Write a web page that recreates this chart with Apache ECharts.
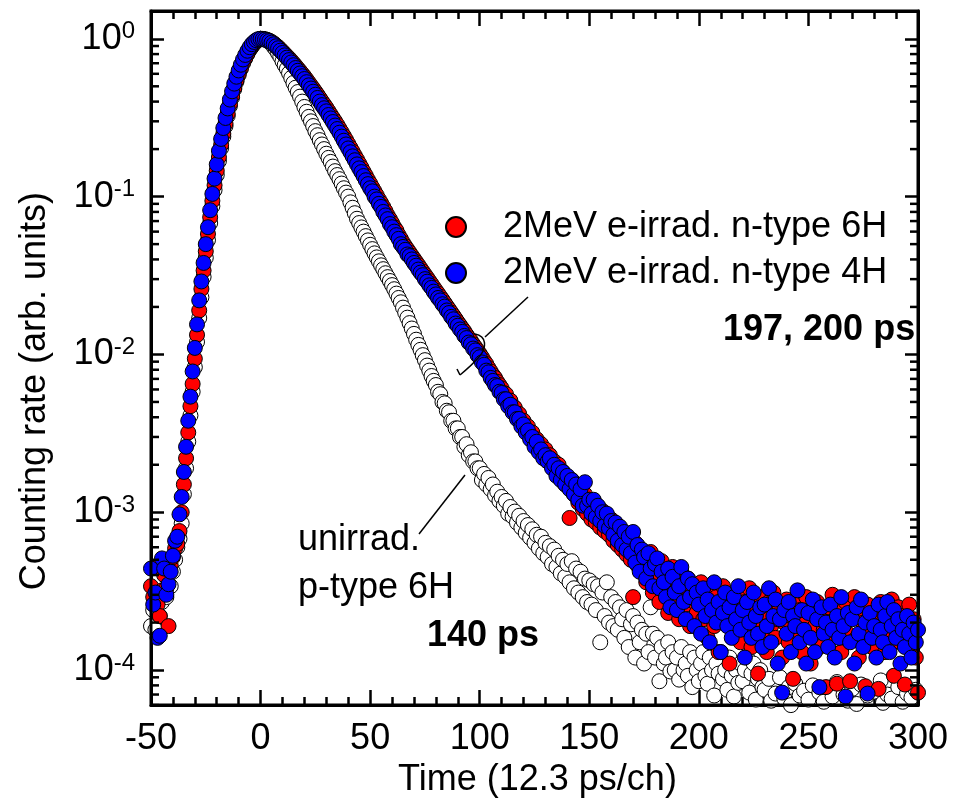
<!DOCTYPE html>
<html>
<head>
<meta charset="utf-8">
<title>Positron lifetime spectra</title>
<script src="https://cdn.jsdelivr.net/npm/echarts@6/dist/echarts.min.js"></script>
<style>
  html, body { margin: 0; padding: 0; background: #fff; }
  #chart { width: 953px; height: 803px; }
</style>
</head>
<body>
<div id="chart"></div>
<script>
// one value per channel, the first one belongs to channel -50
const firstChannel = -50;

const nameUnirrad = 'unirrad. p-type 6H';
const name6H = '2MeV e-irrad. n-type 6H';
const name4H = '2MeV e-irrad. n-type 4H';

const unirradP6H = [
  1.9e-4, 2.4e-4, 1.8e-4, 3.0e-4, 2.2e-4, 2.7e-4, 3.2e-4, 2.9e-4, 4.3e-4, 3.4e-4,
  4.2e-4, 5.0e-4, 6.0e-4, 6.8e-4, 8.5e-4, 1.3e-3, 1.9e-3, 2.8e-3, 4.1e-3, 5.8e-3,
  8.3e-3, 1.2e-2, 1.7e-2, 2.3e-2, 3.1e-2, 4.1e-2, 5.3e-2, 6.8e-2, 8.7e-2, 0.11,
  0.137, 0.168, 0.203, 0.24, 0.28, 0.325, 0.375, 0.425, 0.48, 0.535,
  0.59, 0.645, 0.7, 0.75, 0.8, 0.85, 0.89, 0.93, 0.96, 0.985,
  1.0, 0.998, 0.99, 0.98, 0.955, 0.93, 0.89, 0.855, 0.81, 0.77,
  0.72, 0.68, 0.645, 0.605, 0.565, 0.525, 0.49, 0.46, 0.43, 0.4,
  0.37, 0.345, 0.32, 0.3, 0.28, 0.26, 0.245, 0.228, 0.214, 0.2,
  0.187, 0.176, 0.166, 0.155, 0.145, 0.137, 0.129, 0.121, 0.113, 0.106,
  0.1, 0.092, 0.085, 0.0785, 0.0724, 0.068, 0.0638, 0.06, 0.0562, 0.0528,
  0.0495, 0.0465, 0.0437, 0.0412, 0.0389, 0.0367, 0.0347, 0.0327, 0.0309, 0.0292,
  0.0275, 0.0259, 0.0243, 0.0228, 0.0214, 0.0198, 0.0184, 0.0171, 0.0158, 0.0146,
  0.0135, 0.0124, 0.0115, 0.0107, 0.0099, 0.0092, 0.0085, 0.0079, 0.0073, 0.0068,
  0.0064, 0.0058, 0.0056, 0.005, 0.0049, 0.0044, 0.0043, 0.0038, 0.0038, 0.0034,
  0.0034, 0.003, 0.003, 0.0026, 0.0027, 0.0023, 0.0024, 0.0021, 0.0021, 0.0019,
  1.9e-3, 1.6e-3, 1.75e-3, 1.5e-3, 1.65e-3, 1.4e-3, 1.5e-3, 1.28e-3, 1.35e-3, 1.18e-3,
  1.25e-3, 1.1e-3, 1.18e-3, 9.8e-4, 1.08e-3, 9.4e-4, 1.01e-3, 8.6e-4, 9.5e-4, 8.0e-4,
  8.8e-4, 7.4e-4, 8.3e-4, 6.9e-4, 7.8e-4, 6.4e-4, 7.2e-4, 5.9e-4, 7.0e-4, 5.5e-4,
  6.4e-4, 5.2e-4, 6.1e-4, 4.7e-4, 5.8e-4, 4.5e-4, 5.3e-4, 4.1e-4, 5.0e-4, 3.9e-4,
  4.7e-4, 3.6e-4, 4.9e-4, 3.3e-4, 4.4e-4, 3.1e-4, 4.2e-4, 2.9e-4, 3.8e-4, 2.7e-4,
  3.7e-4, 2.6e-4, 3.5e-4, 2.4e-4, 3.4e-4, 1.5e-4, 3.1e-4, 2.2e-4, 3.6e-4, 2.0e-4,
  2.9e-4, 1.9e-4, 2.7e-4, 1.8e-4, 2.5e-4, 2.1e-4, 1.6e-4, 2.4e-4, 1.4e-4, 1.95e-4,
  2.2e-4, 1.2e-4, 2.0e-4, 1.5e-4, 1.8e-4, 1.1e-4, 1.7e-4, 1.3e-4, 2.5e-4, 1.7e-4,
  1.2e-4, 1.6e-4, 8.5e-5, 1.4e-4, 1.1e-4, 1.2e-4, 1.5e-4, 9.8e-5, 1.3e-4, 1.0e-4,
  1.2e-4, 8.7e-5, 1.4e-4, 1.0e-4, 1.1e-4, 9.2e-5, 1.3e-4, 7.8e-5, 1.2e-4, 1.0e-4,
  8.5e-5, 1.1e-4, 1.3e-4, 9.2e-5, 8.2e-5, 1.2e-4, 1.0e-4, 6.9e-5, 1.1e-4, 9.5e-5,
  1.3e-4, 8.8e-5, 1.0e-4, 7.5e-5, 1.2e-4, 9.2e-5, 6.8e-5, 1.0e-4, 8.3e-5, 1.1e-4,
  8.5e-5, 1.0e-4, 1.2e-4, 7.2e-5, 9.5e-5, 1.1e-4, 6.5e-5, 8.8e-5, 1.0e-4, 7.8e-5,
  7.5e-5, 5.2e-5, 8.8e-5, 6.4e-5, 4.8e-5, 7.1e-5, 5.6e-5, 9.0e-5, 4.5e-5, 6.6e-5,
  5.0e-5, 7.8e-5, 6.0e-5, 4.4e-5, 8.2e-5, 5.4e-5, 6.9e-5, 4.7e-5, 7.4e-5, 5.8e-5,
  6.5e-5, 4.3e-5, 8.0e-5, 5.5e-5, 4.9e-5, 7.2e-5, 5.1e-5, 6.3e-5, 4.6e-5, 7.7e-5,
  5.3e-5, 6.8e-5, 4.5e-5, 8.4e-5, 5.7e-5, 4.8e-5, 7.0e-5, 5.2e-5, 6.4e-5, 4.4e-5,
  7.6e-5, 5.0e-5, 6.1e-5, 4.7e-5, 8.1e-5, 5.5e-5, 4.3e-5, 6.9e-5, 5.9e-5, 4.9e-5,
  7.3e-5, 5.4e-5, 4.6e-5, 8.6e-5, 6.2e-5, 5.0e-5, 7.0e-5, 4.5e-5, 6.6e-5, 5.3e-5,
  4.8e-5, 7.8e-5, 5.6e-5, 6.3e-5, 4.4e-5, 7.1e-5, 5.2e-5, 6.7e-5, 4.9e-5, 7.5e-5,
  5.8e-5
];

const irradN6H = [
  3.4e-4, 2.9e-4, 4.5e-4, 2.6e-4, 2.2e-4, 3.2e-4, 4.0e-4, 3.3e-4, 1.9e-4, 4.6e-4,
  5.2e-4, 5.9e-4, 6.3e-4, 7.6e-4, 1.0e-3, 1.5e-3, 2.2e-3, 3.2e-3, 4.7e-3, 6.5e-3,
  9.4e-3, 1.33e-2, 1.9e-2, 2.6e-2, 3.4e-2, 4.5e-2, 5.8e-2, 7.4e-2, 9.4e-2, 0.118,
  0.146, 0.178, 0.213, 0.25, 0.29, 0.335, 0.385, 0.435, 0.49, 0.545,
  0.6, 0.655, 0.71, 0.76, 0.81, 0.86, 0.9, 0.94, 0.97, 0.99,
  1.0, 0.998, 0.993, 0.984, 0.973, 0.955, 0.935, 0.91, 0.886, 0.858,
  0.83, 0.803, 0.777, 0.752, 0.726, 0.7, 0.674, 0.648, 0.624, 0.6,
  0.576, 0.552, 0.528, 0.505, 0.483, 0.462, 0.442, 0.421, 0.401, 0.383,
  0.366, 0.348, 0.331, 0.315, 0.3, 0.285, 0.27, 0.256, 0.242, 0.229,
  0.216, 0.204, 0.193, 0.182, 0.172, 0.162, 0.153, 0.144, 0.136, 0.128,
  0.121, 0.114, 0.108, 0.102, 0.096, 0.091, 0.086, 0.081, 0.076, 0.072,
  0.068, 0.064, 0.061, 0.057, 0.054, 0.051, 0.0485, 0.0463, 0.0442, 0.0422,
  0.0403, 0.0385, 0.0368, 0.0351, 0.0335, 0.032, 0.0306, 0.0292, 0.0279, 0.0266,
  0.0254, 0.0243, 0.0232, 0.0222, 0.0212, 0.0202, 0.0193, 0.0184, 0.0176, 0.0168,
  0.016, 0.0153, 0.0146, 0.014, 0.0133, 0.0127, 0.0122, 0.0116, 0.0111, 0.0106,
  0.0101, 0.0096, 0.0091, 0.0087, 0.0082, 0.0078, 0.0074, 0.0071, 0.0067, 0.0064,
  0.0061, 0.0057, 0.0056, 0.0051, 0.0051, 0.0047, 0.0046, 0.0042, 0.0042, 0.0038,
  0.0038, 0.0034, 0.0035, 0.0031, 0.0032, 0.0028, 0.0029, 0.0025, 0.0027, 0.0023,
  2.5e-3, 2.1e-3, 2.3e-3, 1.95e-3, 2.1e-3, 1.8e-3, 2.0e-3, 1.65e-3, 1.8e-3, 1.5e-3,
  1.65e-3, 9.2e-4, 1.6e-3, 1.3e-3, 1.5e-3, 1.15e-3, 1.4e-3, 1.05e-3, 1.3e-3, 9.8e-4,
  1.2e-3, 9.0e-4, 1.18e-3, 8.6e-4, 1.08e-3, 8.0e-4, 1.02e-3, 7.6e-4, 9.5e-4, 7.2e-4,
  9.0e-4, 6.6e-4, 8.4e-4, 6.2e-4, 7.8e-4, 5.8e-4, 7.2e-4, 5.4e-4, 6.8e-4, 5.0e-4,
  2.9e-4, 6.4e-4, 4.6e-4, 5.9e-4, 4.2e-4, 5.3e-4, 3.6e-4, 4.8e-4, 5.6e-4, 3.1e-4,
  4.4e-4, 3.8e-4, 2.7e-4, 4.9e-4, 3.3e-4, 4.1e-4, 2.3e-4, 3.7e-4, 4.5e-4, 2.8e-4,
  3.5e-4, 2.1e-4, 4.2e-4, 3.0e-4, 2.6e-4, 3.8e-4, 1.9e-4, 3.3e-4, 2.7e-4, 2.3e-4,
  3.1e-4, 3.6e-4, 2.1e-4, 2.7e-4, 1.6e-4, 3.2e-4, 2.4e-4, 1.9e-4, 2.9e-4, 1.3e-4,
  2.6e-4, 3.4e-4, 2.0e-4, 2.4e-4, 1.1e-4, 2.8e-4, 1.7e-4, 2.3e-4, 3.1e-4, 1.5e-4,
  2.2e-4, 2.7e-4, 1.8e-4, 3.3e-4, 1.4e-4, 2.5e-4, 2.0e-4, 9.5e-5, 2.9e-4, 1.7e-4,
  2.3e-4, 1.3e-4, 2.7e-4, 1.9e-4, 3.1e-4, 1.6e-4, 2.1e-4, 2.5e-4, 1.2e-4, 2.0e-4,
  2.8e-4, 1.5e-4, 2.2e-4, 8.8e-5, 2.6e-4, 1.8e-4, 2.4e-4, 1.3e-4, 2.1e-4, 2.9e-4,
  1.7e-4, 1.1e-4, 2.4e-4, 1.9e-4, 2.7e-4, 1.4e-4, 2.2e-4, 1.8e-4, 7.8e-5, 2.5e-4,
  1.6e-4, 3.0e-4, 2.0e-4, 8.2e-5, 2.4e-4, 1.3e-4, 1.9e-4, 2.7e-4, 1.7e-4, 8.5e-5,
  2.2e-4, 2.9e-4, 1.6e-4, 1.2e-4, 2.4e-4, 2.0e-4, 7.9e-5, 2.6e-4, 1.8e-4, 1.4e-4,
  2.3e-4, 1.7e-4, 7.6e-5, 2.7e-4, 2.0e-4, 1.3e-4, 2.4e-4, 1.6e-4, 2.8e-4, 9.2e-5,
  2.0e-4, 2.5e-4, 1.5e-4, 2.2e-4, 8.1e-5, 1.8e-4, 2.6e-4, 1.4e-4, 2.1e-4, 1.2e-4,
  7.2e-5
];

const irradN4H = [
  4.4e-4, 2.6e-4, 3.1e-4, 1.6e-4, 1.65e-4, 5.1e-4, 4.4e-4, 3.0e-4, 3.5e-4, 4.2e-4,
  5.3e-4, 6.6e-4, 7.0e-4, 9.7e-4, 1.25e-3, 1.8e-3, 2.6e-3, 3.8e-3, 5.4e-3, 7.8e-3,
  1.1e-2, 1.55e-2, 2.2e-2, 2.9e-2, 3.8e-2, 5.0e-2, 6.4e-2, 8.2e-2, 0.104, 0.13,
  0.16, 0.195, 0.232, 0.272, 0.315, 0.362, 0.412, 0.465, 0.52, 0.575,
  0.63, 0.685, 0.74, 0.79, 0.84, 0.885, 0.925, 0.955, 0.98, 0.995,
  1.0, 0.995, 0.989, 0.977, 0.966, 0.944, 0.923, 0.896, 0.871, 0.841,
  0.813, 0.785, 0.759, 0.733, 0.708, 0.68, 0.653, 0.627, 0.603, 0.579,
  0.556, 0.531, 0.507, 0.484, 0.462, 0.442, 0.422, 0.4, 0.38, 0.363,
  0.347, 0.329, 0.313, 0.297, 0.282, 0.268, 0.254, 0.24, 0.226, 0.214,
  0.202, 0.191, 0.18, 0.17, 0.16, 0.151, 0.143, 0.135, 0.127, 0.12,
  0.113, 0.108, 0.1, 0.096, 0.09, 0.086, 0.08, 0.076, 0.072, 0.067,
  0.064, 0.06, 0.057, 0.054, 0.05, 0.048, 0.046, 0.043, 0.042, 0.04,
  0.038, 0.0365, 0.0345, 0.033, 0.0318, 0.03, 0.0289, 0.0274, 0.0264, 0.025,
  0.024, 0.0228, 0.022, 0.0208, 0.0201, 0.019, 0.0183, 0.0173, 0.0167, 0.0157,
  0.0152, 0.0144, 0.0139, 0.0131, 0.0127, 0.0119, 0.0116, 0.0109, 0.0106, 0.0099,
  0.0096, 0.0089, 0.0086, 0.0079, 0.0077, 0.0071, 0.0068, 0.0064, 0.0063, 0.0058,
  0.0057, 0.0052, 0.0052, 0.0047, 0.0048, 0.0043, 0.0043, 0.0039, 0.0039, 0.0035,
  0.0036, 0.0032, 0.0033, 0.0029, 0.003, 0.0026, 0.0028, 0.0024, 0.0025, 0.0022,
  2.3e-3, 2.1e-3, 2.2e-3, 1.9e-3, 2.0e-3, 1.7e-3, 1.9e-3, 1.6e-3, 1.8e-3, 1.5e-3,
  1.7e-3, 1.4e-3, 1.6e-3, 1.3e-3, 1.5e-3, 1.2e-3, 1.4e-3, 1.1e-3, 1.55e-3, 1.1e-3,
  1.2e-3, 9.8e-4, 1.2e-3, 9.3e-4, 1.1e-3, 8.8e-4, 1.0e-3, 8.2e-4, 9.8e-4, 7.9e-4,
  8.8e-4, 7.2e-4, 8.6e-4, 6.6e-4, 8.1e-4, 6.2e-4, 7.5e-4, 5.8e-4, 7.0e-4, 5.5e-4,
  7.5e-4, 4.8e-4, 6.2e-4, 4.2e-4, 5.8e-4, 5.2e-4, 3.8e-4, 5.5e-4, 4.4e-4, 3.4e-4,
  4.7e-4, 5.1e-4, 3.3e-4, 4.2e-4, 3.6e-4, 2.9e-4, 4.4e-4, 2.5e-4, 3.9e-4, 3.1e-4,
  2.4e-4, 3.4e-4, 4.5e-4, 2.7e-4, 2.1e-4, 3.8e-4, 2.9e-4, 3.5e-4, 1.9e-4, 3.1e-4,
  2.6e-4, 1.7e-4, 3.3e-4, 2.2e-4, 2.8e-4, 1.5e-4, 2.4e-4, 3.6e-4, 2.0e-4, 2.7e-4,
  1.3e-4, 2.3e-4, 3.1e-4, 1.9e-4, 2.5e-4, 1.6e-4, 2.9e-4, 2.1e-4, 3.4e-4, 1.8e-4,
  2.4e-4, 1.2e-4, 2.7e-4, 2.0e-4, 1.6e-4, 3.1e-4, 2.2e-4, 1.7e-4, 2.5e-4, 1.4e-4,
  2.6e-4, 1.9e-4, 3.3e-4, 1.5e-4, 2.2e-4, 2.8e-4, 1.1e-4, 2.1e-4, 7.2e-5, 2.4e-4,
  1.7e-4, 2.7e-4, 1.3e-4, 2.2e-4, 1.9e-4, 3.2e-4, 1.5e-4, 2.4e-4, 1.8e-4, 1.1e-4,
  2.3e-4, 1.6e-4, 2.8e-4, 1.3e-4, 2.1e-4, 7.8e-5, 2.5e-4, 1.7e-4, 2.0e-4, 1.4e-4,
  2.6e-4, 1.8e-4, 1.2e-4, 2.2e-4, 1.6e-4, 2.9e-4, 1.9e-4, 6.8e-5, 2.3e-4, 1.5e-4,
  2.1e-4, 1.1e-4, 2.5e-4, 1.7e-4, 2.8e-4, 1.4e-4, 2.0e-4, 7.1e-5, 2.3e-4, 1.6e-4,
  1.9e-4, 1.2e-4, 2.6e-4, 1.8e-4, 1.5e-4, 2.2e-4, 2.7e-4, 1.3e-4, 1.9e-4, 2.4e-4,
  1.6e-4, 2.1e-4, 1.1e-4, 1.8e-4, 1.4e-4, 2.2e-4, 1.7e-4, 1.2e-4, 2.0e-4, 1.5e-4,
  1.8e-4
];

// axis ranges and tick labels
const xRange = [-50, 300];
const xTickStep = 50;
const yRange = [6e-5, 1.5];
const yDecades = [-5, -4, -3, -2, -1, 0];
const minorSteps = [2, 3, 4, 5, 6, 7, 8, 9];

const toPoints = (values) => values.map((v, i) => [firstChannel + i, v]);

// minor ticks of the log axis (2..9 within each decade)
let yMinorTicks = [];
yDecades.forEach(function (d) {
    minorSteps.forEach(function (m) {
        const v = m * Math.pow(10, d);
        if (v > yRange[0] && v < yRange[1]) yMinorTicks.push([xRange[0], v]);
    });
});

const font = 'Liberation Sans, Arial, sans-serif';

const chart = echarts.init(document.getElementById('chart'), null, {renderer: 'canvas'});

const axisLine = () => ({show: true, onZero: false, lineStyle: {color: '#000', width: 3}});
const tick = (len) => ({show: true, inside: true, length: len, lineStyle: {color: '#000', width: 2.5}});
const minorTick = () => ({show: true, splitNumber: 5, length: 8, lineStyle: {color: '#000', width: 2.5}});

const scatterStyle = (color) => ({
    type: 'scatter',
    symbol: 'circle',
    symbolSize: 15,
    itemStyle: {color: color, borderColor: '#000', borderWidth: 1, opacity: 1},
    emphasis: {disabled: true},
    z: 2
});

const option = {
    animation: false,
    backgroundColor: '#fff',
    grid: {
        left: 151, right: 35, top: 11, bottom: 92, containLabel: false,
        show: true, borderColor: '#000', borderWidth: 3, backgroundColor: 'transparent', z: 4
    },
    legend: {
        data: [name6H, name4H],
        orient: 'vertical',
        left: 445,
        top: 209,
        padding: 0,
        itemGap: 10,
        itemWidth: 20,
        itemHeight: 20,
        icon: 'circle',
        selectedMode: false,
        textStyle: {fontFamily: font, fontSize: 36, color: '#000', padding: [0, 0, 0, 32]}
    },
    xAxis: [{
        type: 'value',
        position: 'bottom',
        min: xRange[0], max: xRange[1], interval: xTickStep,
        axisLine: axisLine(), axisTick: tick(15), minorTick: minorTick(),
        splitLine: {show: false},
        axisLabel: {fontFamily: font, fontSize: 36, color: '#000', margin: 16},
        name: 'Time (12.3 ps/ch)',
        nameLocation: 'middle',
        nameGap: 51,
        nameTextStyle: {fontFamily: font, fontSize: 36, color: '#000', padding: [0, 0, 0, 6]}
    }, {
        type: 'value',
        position: 'top',
        min: xRange[0], max: xRange[1], interval: xTickStep,
        axisLine: axisLine(), axisTick: tick(15), minorTick: minorTick(),
        splitLine: {show: false},
        axisLabel: {show: false}
    }],
    yAxis: [{
        type: 'log',
        logBase: 10,
        position: 'left',
        min: yRange[0], max: yRange[1],
        axisLine: axisLine(),
        axisTick: tick(13),
        splitLine: {show: false},
        axisLabel: {
            showMinLabel: false, showMaxLabel: false,
            margin: 16,
            formatter: function (v) {
                const e = Math.round(Math.log10(v));
                return '{b|10}{s|' + e + '}';
            },
            rich: {
                b: {fontFamily: font, fontSize: 36, color: '#000'},
                s: {fontFamily: font, fontSize: 24, color: '#000', verticalAlign: 'top', padding: [0, 0, 14, 0]}
            }
        },
        name: 'Counting rate (arb. units)',
        nameLocation: 'middle',
        nameGap: 98,
        nameTextStyle: {fontFamily: font, fontSize: 36, color: '#000', padding: [0, 66, 0, 0]}
    }, {
        type: 'log',
        logBase: 10,
        position: 'right',
        min: yRange[0], max: yRange[1],
        axisLine: axisLine(),
        axisTick: tick(13),
        splitLine: {show: false},
        axisLabel: {show: false}
    }],
    graphic: [
        {type: 'text', left: 298, top: 522, style: {text: 'unirrad.', font: '36px ' + font, fill: '#000'}},
        {type: 'text', left: 298, top: 570, style: {text: 'p-type 6H', font: '36px ' + font, fill: '#000'}},
        {type: 'text', left: 427, top: 618, style: {text: '140 ps', font: 'bold 36px ' + font, fill: '#000'}},
        {type: 'text', left: 723, top: 312, style: {text: '197, 200 ps', font: 'bold 36px ' + font, fill: '#000'}},
        {type: 'line', shape: {x1: 419, y1: 534, x2: 465, y2: 475}, style: {stroke: '#000', lineWidth: 1.5}, z: 10},
        {type: 'line', shape: {x1: 485, y1: 337, x2: 528, y2: 297}, style: {stroke: '#000', lineWidth: 1.5}, z: 10},
        // bracket grouping the two irradiated curves
        {type: 'bezierCurve', shape: {x1: 475, y1: 334, cpx1: 487, cpy1: 336, cpx2: 487, cpy2: 348, x2: 479, y2: 357},
            style: {stroke: '#000', lineWidth: 1.5, fill: null}, z: 10},
        {type: 'bezierCurve', shape: {x1: 479, y1: 357, cpx1: 473, cpy1: 364, cpx2: 466, cpy2: 370, x2: 460, y2: 375},
            style: {stroke: '#000', lineWidth: 1.5, fill: null}, z: 10},
        {type: 'line', shape: {x1: 460, y1: 375, x2: 457, y2: 369}, style: {stroke: '#000', lineWidth: 1.5}, z: 10}
    ],
    series: [
        Object.assign(scatterStyle('#fff'), {name: nameUnirrad, data: toPoints(unirradP6H)}),
        Object.assign(scatterStyle('#ff0000'), {name: name6H, data: toPoints(irradN6H)}),
        Object.assign(scatterStyle('#0000ff'), {name: name4H, data: toPoints(irradN4H)}),
        {
            type: 'custom',
            name: 'minor ticks',
            silent: true,
            clip: false,
            z: 5,
            data: yMinorTicks,
            renderItem: function (params, api) {
                const p = api.coord([xRange[0], api.value(1)]);
                const cs = params.coordSys;
                const st = {stroke: '#000', lineWidth: 2.5};
                return {
                    type: 'group',
                    children: [
                        {type: 'line', shape: {x1: cs.x, y1: p[1], x2: cs.x + 8, y2: p[1]}, style: st},
                        {type: 'line', shape: {x1: cs.x + cs.width - 8, y1: p[1], x2: cs.x + cs.width, y2: p[1]}, style: st}
                    ]
                };
            }
        }
    ]
};

chart.setOption(option);
</script>
</body>
</html>
